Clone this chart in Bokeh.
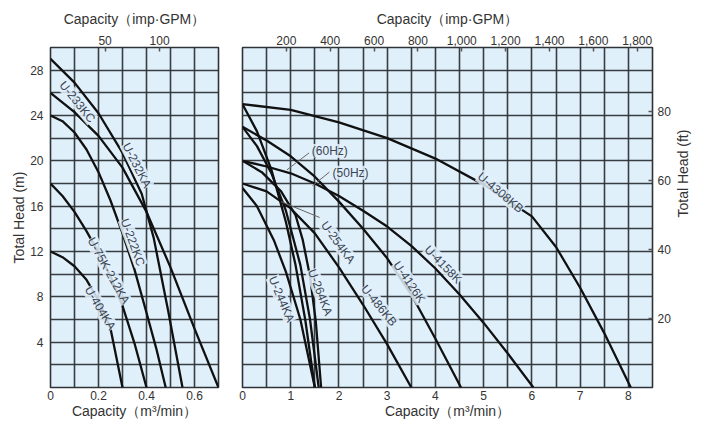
import math
from bokeh.plotting import figure
from bokeh.models import (Range1d, LinearAxis, SingleIntervalTicker, FixedTicker,
                          NumeralTickFormatter)
from bokeh.layouts import row
from bokeh.embed import file_html
from bokeh.resources import INLINE
from bokeh.core.properties import value

# ---------------- data (capacity m3/min, total head m) ----------------
# left panel
u232ka_q = [0, 0.1, 0.2, 0.3, 0.38, 0.43, 0.49, 0.55]
u232ka_h = [29, 26.9, 24.2, 20.7, 17.1, 13.2, 6.8, 0]
u233kc_q = [0, 0.1, 0.2, 0.3, 0.4, 0.5, 0.6, 0.7]
u233kc_h = [26, 24.3, 22.2, 19.4, 15.5, 10.6, 5.2, 0]
u222kc_q = [0, 0.05, 0.1, 0.15, 0.2, 0.25, 0.3, 0.35, 0.4, 0.44, 0.48]
u222kc_h = [24, 23.5, 22.5, 21.0, 19.0, 16.5, 13.6, 10.4, 6.6, 3.5, 0]
u212ka_q = [0, 0.05, 0.1, 0.15, 0.2, 0.25, 0.3, 0.35, 0.4]
u212ka_h = [18, 16.9, 15.5, 13.8, 11.9, 9.8, 7.2, 3.9, 0]
u404ka_q = [0, 0.05, 0.1, 0.15, 0.2, 0.25, 0.3]
u404ka_h = [12, 11.5, 10.7, 9.5, 7.7, 5.2, 0]

# right panel
u4308kb_q = [0, 1, 2, 3, 4, 5, 6, 6.5, 7, 7.5, 8.05]
u4308kb_h = [25, 24.5, 23.4, 22.0, 20.2, 17.9, 15.1, 12.4, 8.8, 4.8, 0]
u4158k_q = [0, 0.5, 1.0, 1.5, 2.0, 2.5, 3.0, 3.5, 4.0, 4.5, 5.0, 5.5, 6.03]
u4158k_h = [20, 19.5, 18.9, 18.0, 16.9, 15.6, 14.2, 12.5, 10.5, 8.2, 5.7, 3.0, 0]
u4126k_q = [0, 0.5, 1.0, 1.5, 2.0, 2.5, 3.0, 3.5, 4.0, 4.53]
u4126k_h = [23, 21.8, 20.4, 18.6, 16.4, 14.0, 11.4, 8.2, 4.3, 0]
u486kb_q = [0, 0.5, 1.0, 1.5, 2.0, 2.5, 3.0, 3.5]
u486kb_h = [18, 17.3, 15.8, 13.6, 10.6, 7.3, 3.8, 0]
u254ka60_q = [0, 0.3, 0.6, 0.9, 1.1, 1.3, 1.5]
u254ka60_h = [25, 22.6, 19.2, 14.6, 10.8, 6.0, 0]
u254ka50_q = [0, 0.3, 0.6, 0.9, 1.2, 1.4, 1.58]
u254ka50_h = [23, 21.3, 18.9, 15.6, 10.8, 6.0, 0]
u264ka_q = [0, 0.4, 0.8, 1.1, 1.25, 1.4, 1.52, 1.63]
u264ka_h = [20, 19.0, 17.3, 15.2, 13.0, 9.8, 5.8, 0]
u244ka_q = [0, 0.3, 0.65, 0.9, 1.2, 1.5]
u244ka_h = [17.6, 16.0, 13.0, 10.2, 6.0, 0]

left_curves = [(u232ka_q, u232ka_h), (u233kc_q, u233kc_h), (u222kc_q, u222kc_h),
               (u212ka_q, u212ka_h), (u404ka_q, u404ka_h)]
right_curves = [(u4308kb_q, u4308kb_h), (u4158k_q, u4158k_h), (u4126k_q, u4126k_h),
                (u486kb_q, u486kb_h), (u254ka60_q, u254ka60_h), (u254ka50_q, u254ka50_h),
                (u264ka_q, u264ka_h), (u244ka_q, u244ka_h)]

# curve labels: text, q, h, angle (deg)
left_labels = [("U-233KC", 0.112, 25.2, -51), ("U-232KA", 0.36, 19.6, -63),
               ("U-222KC", 0.343, 12.8, -70), ("U-75K·212KA", 0.242, 10.3, -61),
               ("U-404KA", 0.207, 7.0, -59)]
right_labels = [("U-4308KB", 5.35, 17.2, -40), ("U-4158K", 4.16, 10.85, -46),
                ("U-4126K", 3.46, 9.3, -56), ("U-486KB", 2.83, 7.24, -51),
                ("U-254KA", 1.98, 12.8, -54), ("U-264KA", 1.61, 8.4, -69),
                ("U-244KA", 0.81, 7.8, -67), ("(60Hz)", 1.81, 20.86, 0),
                ("(50Hz)", 2.24, 18.95, 0)]
# leader lines: q0, h0, q1, h1
leaders = [(1.38, 20.7, 0.92, 19.2), (1.8, 19.0, 1.45, 17.8), (1.6, 15.0, 0.8, 16.4)]

left_q_ticks = [0, 0.2, 0.4, 0.6]
right_q_ticks = [0, 1, 2, 3, 4, 5, 6, 7, 8]
head_m_ticks = [4, 8, 12, 16, 20, 24, 28]
head_ft_ticks = [20, 40, 60, 80]
left_gpm_ticks = [50, 100]
right_gpm_ticks = [200, 400, 600, 800, 1000, 1200, 1400, 1600, 1800]

M3MIN_TO_GPM = 219.969
M_TO_FT = 3.28084

TITLE_Q = "Capacity（m³/min）"
TITLE_GPM = "Capacity（imp·GPM）"

# ---------------- styling ----------------
BG = "#e0f0fb"
GRID = "#2e3338"
CURVE = "#111111"
TXT = "#333333"
FONT = "Liberation Sans"
TICK_FS = "12px"
TITLE_FS = "14px"


def style_axis(ax, ticks_in=0, lab_so=3, title_so=2):
    ax.axis_line_color = None
    ax.major_tick_in = ticks_in
    ax.major_tick_out = 0
    ax.major_tick_line_color = "#555555"
    ax.major_tick_line_width = 1.5
    ax.minor_tick_line_color = None
    ax.major_label_text_font = FONT
    ax.major_label_text_font_size = TICK_FS
    ax.major_label_text_color = TXT
    ax.major_label_standoff = lab_so
    ax.axis_label_text_font = FONT
    ax.axis_label_text_font_size = TITLE_FS
    ax.axis_label_text_font_style = "normal"
    ax.axis_label_text_color = TXT
    ax.axis_label_standoff = title_so


def make_fig(xmax, frame_w, borders, grid_step):
    w = borders[0] + frame_w + borders[1]
    h = borders[2] + 340 + borders[3]
    p = figure(width=w, height=h,
               x_range=Range1d(0, xmax), y_range=Range1d(0, 30),
               output_backend="svg", toolbar_location=None,
               min_border_left=borders[0], min_border_right=borders[1],
               min_border_top=borders[2], min_border_bottom=borders[3],
               background_fill_color=BG, border_fill_color="white",
               outline_line_color=GRID, outline_line_width=1.6)
    p.xgrid.ticker = SingleIntervalTicker(interval=grid_step, num_minor_ticks=0)
    p.ygrid.ticker = SingleIntervalTicker(interval=2, num_minor_ticks=0)
    for g in (p.xgrid[0], p.ygrid[0]):
        g.grid_line_color = GRID
        g.grid_line_width = 1.6
        g.grid_line_alpha = 0.95
    return p


def draw(p, curves, labels):
    for q, h in curves:
        p.line(q, h, line_color=CURVE, line_width=2.3, line_join="round")
    for t, x, y, a in labels:
        p.text(x=[x], y=[y], text=[t], angle=a, angle_units="deg",
               text_align="center", text_baseline="middle",
               text_font=value(FONT), text_font_size="12px", text_color="#3a4550",
               background_fill_color=BG, background_fill_alpha=0.85, padding=0)


# ---------------- left panel ----------------
p1 = make_fig(0.7, 168, (50, 10, 47, 36), 0.1)
bottom1 = p1.below[0]
left1 = p1.left[0]
bottom1.ticker = FixedTicker(ticks=left_q_ticks)
bottom1.formatter = NumeralTickFormatter(format="0.[0]")
bottom1.axis_label = TITLE_Q
left1.ticker = FixedTicker(ticks=head_m_ticks)
left1.axis_label = "Total Head (m)"
p1.extra_x_ranges = {"gpm": Range1d(0, 0.7 * M3MIN_TO_GPM)}
top1 = LinearAxis(x_range_name="gpm", ticker=FixedTicker(ticks=left_gpm_ticks),
                  axis_label=TITLE_GPM)
p1.add_layout(top1, "above")
style_axis(bottom1, lab_so=3, title_so=0)
style_axis(left1, lab_so=7, title_so=0)
style_axis(top1, ticks_in=4, lab_so=3, title_so=6)
draw(p1, left_curves, left_labels)

# ---------------- right panel ----------------
p2 = make_fig(8.5, 411, (14, 48, 47, 36), 0.5)
bottom2 = p2.below[0]
p2.left[0].visible = False
bottom2.ticker = FixedTicker(ticks=right_q_ticks)
bottom2.axis_label = TITLE_Q
p2.extra_x_ranges = {"gpm": Range1d(0, 8.5 * M3MIN_TO_GPM)}
p2.extra_y_ranges = {"ft": Range1d(0, 30 * M_TO_FT)}
top2 = LinearAxis(x_range_name="gpm", ticker=FixedTicker(ticks=right_gpm_ticks),
                  formatter=NumeralTickFormatter(format="0,0"),
                  axis_label=TITLE_GPM)
p2.add_layout(top2, "above")
right2 = LinearAxis(y_range_name="ft", ticker=FixedTicker(ticks=head_ft_ticks),
                    axis_label="Total Head (ft)")
p2.add_layout(right2, "right")
style_axis(bottom2, lab_so=3, title_so=0)
style_axis(top2, ticks_in=4, lab_so=3, title_so=6)
style_axis(right2, ticks_in=4, lab_so=5, title_so=9)
if "axis_label_orientation" in right2.properties():
    right2.axis_label_orientation = math.pi / 2
draw(p2, right_curves, right_labels)
for q0, h0, q1, h1 in leaders:
    p2.line([q0, q1], [h0, h1], line_color="#666666", line_width=1)

layout = row(p1, p2)
open("out.html", "w").write(file_html(layout, INLINE))
